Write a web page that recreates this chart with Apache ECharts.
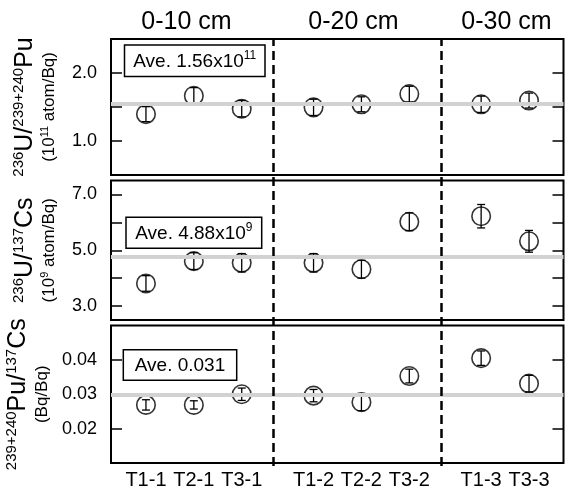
<!DOCTYPE html>
<html><head><meta charset="utf-8">
<script src="https://cdn.jsdelivr.net/npm/echarts@6/dist/echarts.min.js"></script>
<style>html,body{margin:0;padding:0;background:#fff}#c{width:565px;height:488px}</style>
</head><body><div id="c"></div>
<script>
// ---- data ----
const categories = ['T1-1','T2-1','T3-1','T1-2','T2-2','T3-2','T1-3','T3-3'];
const xPositions = [1, 2, 3, 4.5, 5.5, 6.5, 8, 9];
const groupLabels = ['0-10 cm', '0-20 cm', '0-30 cm'];
const groupDividers = [3.65, 7.16];

const uPuValues = [1.395, 1.665, 1.475, 1.495, 1.54, 1.69, 1.54, 1.595];
const uPuErrors = [0.11, 0.12, 0.12, 0.12, 0.11, 0.115, 0.12, 0.11];
const uPuAverage = 1.55;
const uPuTicks = [1.0, 1.5, 2.0];
const uPuTickLabels = [1.0, 2.0];

const uCsValues = [3.81, 4.61, 4.55, 4.55, 4.32, 6.02, 6.22, 5.32];
const uCsErrors = [0.28, 0.30, 0.33, 0.33, 0.32, 0.32, 0.42, 0.39];
const uCsAverage = 4.76;
const uCsTicks = [3, 4, 5, 6, 7];
const uCsTickLabels = [3, 5, 7];

const puCsValues = [0.0269, 0.0269, 0.0300, 0.0296, 0.0277, 0.0353, 0.0405, 0.0331];
const puCsErrors = [0.0015, 0.0012, 0.0018, 0.0018, 0.0025, 0.0020, 0.0021, 0.0024];
const puCsAverage = 0.0308;
const puCsTicks = [0.02, 0.03, 0.04];
const puCsTickLabels = [0.02, 0.03, 0.04];

const aveTexts = [['Ave. 1.56x10', '11'], ['Ave. 4.88x10', '9'], ['Ave. 0.031', '']];

// ---- chart ----
const FF = '"Liberation Sans", Arial, Helvetica, sans-serif';
const chart = echarts.init(document.getElementById('c'));
const XMIN = 0.27, XMAX = 9.72;
const grids = [
  {left: 111, right: 1.5, top: 39, height: 136},
  {left: 111, right: 1.5, top: 180.5, height: 139.5},
  {left: 111, right: 1.5, top: 325.5, height: 137.5}
];
const panels = [
  {vals: uPuValues, errs: uPuErrors, avg: uPuAverage, min: 0.5, max: 2.5, ticks: uPuTicks, labels: uPuTickLabels, fmt: v => v.toFixed(1),
   name: '{s|236}{b|U/}{s|239+240}{b|Pu}\n{m|(10}{t|11}{m| atom/Bq)}'},
  {vals: uCsValues, errs: uCsErrors, avg: uCsAverage, min: 2.5, max: 7.5, ticks: uCsTicks, labels: uCsTickLabels, fmt: v => v.toFixed(1),
   name: '{s|236}{b|U/}{s|137}{b|Cs}\n{m|(10}{t|9}{m| atom/Bq)}'},
  {vals: puCsValues, errs: puCsErrors, avg: puCsAverage, min: 0.01, max: 0.05, ticks: puCsTicks, labels: puCsTickLabels, fmt: v => v.toFixed(2),
   name: '{s|239+240}{b|Pu/}{s|137}{b|Cs}\n{m|(Bq/Bq)}'}
];
const nameRich = {
  b: {fontSize: 25, fontFamily: FF, color: '#000', lineHeight: 28},
  s: {fontSize: 15, fontFamily: FF, color: '#000', verticalAlign: 'top'},
  m: {fontSize: 17, fontFamily: FF, color: '#000', lineHeight: 21},
  t: {fontSize: 11, fontFamily: FF, color: '#000', verticalAlign: 'top'}
};

const xAxis = [], yAxis = [], series = [];
panels.forEach((p, i) => {
  xAxis.push({type: 'value', gridIndex: i, min: XMIN, max: XMAX,
    axisLine: {show: false}, axisTick: {show: false}, splitLine: {show: false},
    axisLabel: i === 2 ? {show: true, customValues: xPositions, formatter: v => categories[xPositions.indexOf(v)],
      fontSize: 20, fontFamily: FF, color: '#000', margin: 7} : {show: false}});
  yAxis.push({type: 'value', gridIndex: i, min: p.min, max: p.max, position: 'left',
    axisLine: {show: false}, splitLine: {show: false},
    axisTick: {show: true, inside: true, length: 11, lineStyle: {color: '#000', width: 1.5}, customValues: p.ticks},
    axisLabel: {show: true, customValues: p.labels, formatter: p.fmt, fontSize: 18, fontFamily: FF, color: '#000', margin: 14},
    name: p.name, nameLocation: 'middle', nameRotate: 90, nameGap: 51,
    nameTextStyle: {rich: nameRich, align: 'center'}});
  yAxis.push({type: 'value', gridIndex: i, min: p.min, max: p.max, position: 'right',
    axisLine: {show: false}, splitLine: {show: false}, axisLabel: {show: false},
    axisTick: {show: true, inside: true, length: 11, lineStyle: {color: '#000', width: 1.5}, customValues: p.ticks}});
  const pts = xPositions.map((x, k) => [x, p.vals[k], p.errs[k]]);
  series.push({type: 'line', xAxisIndex: i, yAxisIndex: 2 * i, data: [], z: 1, silent: true,
    markLine: {silent: true, symbol: 'none', label: {show: false}, animation: false,
      lineStyle: {color: '#d2d2d2', width: 4, type: 'solid'}, data: [{yAxis: p.avg}]}});
  series.push({type: 'custom', xAxisIndex: i, yAxisIndex: 2 * i, data: pts, z: 3, silent: true,
    encode: {x: 0, y: 1},
    renderItem: (params, api) => {
      const x = api.value(0), y = api.value(1), e = api.value(2);
      const hi = api.coord([x, y + e]), lo = api.coord([x, y - e]);
      const w = 4, st = {stroke: '#000', lineWidth: 1.3};
      return {type: 'group', children: [
        {type: 'line', shape: {x1: hi[0], y1: hi[1], x2: lo[0], y2: lo[1]}, style: st},
        {type: 'line', shape: {x1: hi[0] - w, y1: hi[1], x2: hi[0] + w, y2: hi[1]}, style: st},
        {type: 'line', shape: {x1: lo[0] - w, y1: lo[1], x2: lo[0] + w, y2: lo[1]}, style: st}
      ]};
    }});
  series.push({type: 'scatter', xAxisIndex: i, yAxisIndex: 2 * i, data: pts.map(d => [d[0], d[1]]), z: 4,
    symbol: 'circle', symbolSize: 18.5,
    itemStyle: {color: 'rgba(0,0,0,0)', borderColor: '#000', borderWidth: 1.6}});
});
// overlay grid for the dashed group dividers
grids.push({left: 111, right: 1.5, top: 39, height: 427, show: false});
xAxis.push({type: 'value', gridIndex: 3, min: XMIN, max: XMAX, show: false});
yAxis.push({type: 'value', gridIndex: 3, min: 0, max: 1, show: false});
series.push({type: 'line', xAxisIndex: 3, yAxisIndex: 6, data: [[1, -5]], symbol: 'none', lineStyle: {opacity: 0}, z: 5, silent: true,
  markLine: {silent: true, symbol: 'none', label: {show: false}, animation: false,
    lineStyle: {color: '#000', width: 2.5, type: [9, 5]},
    data: groupDividers.map(v => ({xAxis: v}))}});
grids.forEach(g => { g.outerBoundsMode = 'none'; g.containLabel = false; });
grids.slice(0, 3).forEach(g => { g.show = true; g.borderColor = '#000'; g.borderWidth = 2; g.backgroundColor = 'transparent'; });

const headerX = [186.5, 353.5, 506.5];
const boxes = [
  {x: 124.5, y: 45, w: 140.5, h: 31.5},
  {x: 126, y: 217.3, w: 135.7, h: 31},
  {x: 123.3, y: 349.7, w: 113.4, h: 30.6}
];
const graphic = [];
groupLabels.forEach((t, i) => graphic.push({type: 'text', x: headerX[i], y: 22, z: 10,
  style: {text: t, fontSize: 25, fontFamily: FF, fill: '#000', align: 'center', verticalAlign: 'middle'}}));
boxes.forEach((b, i) => {
  graphic.push({type: 'rect', z: 10, shape: {x: b.x, y: b.y, width: b.w, height: b.h},
    style: {fill: '#fff', stroke: '#000', lineWidth: 1.5}});
  graphic.push({type: 'text', z: 11, x: b.x + b.w / 2, y: b.y + b.h / 2 + 1,
    style: {text: '{a|' + aveTexts[i][0] + '}' + (aveTexts[i][1] ? '{s|' + aveTexts[i][1] + '}' : ''),
      align: 'center', verticalAlign: 'middle',
      rich: {a: {fontSize: 19, fontFamily: FF, fill: '#000', color: '#000', lineHeight: 24},
             s: {fontSize: 12, fontFamily: FF, fill: '#000', color: '#000', verticalAlign: 'top'}}}});
});

chart.setOption({animation: false, backgroundColor: '#fff', grid: grids, xAxis, yAxis, series, graphic});
</script></body></html>
